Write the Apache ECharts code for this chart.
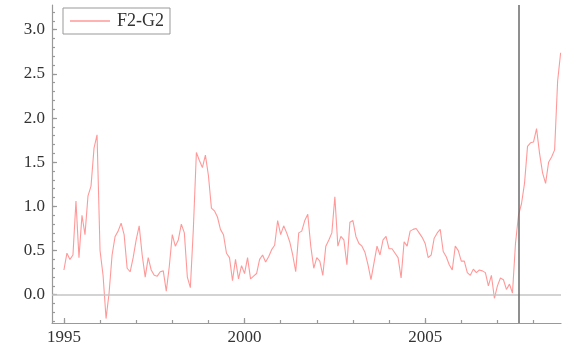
<!DOCTYPE html>
<html><head><meta charset="utf-8">
<script src="https://cdn.jsdelivr.net/npm/echarts@6/dist/echarts.min.js"></script>
<style>html,body{margin:0;padding:0;background:#fff}#c{width:573px;height:354px}</style>
</head><body><div id="c"></div>
<script>
// Monthly series starting January 1995
const startYear = 1995;
const v1995 = [0.28, 0.47, 0.40, 0.45, 1.06, 0.42, 0.90, 0.68, 1.12, 1.23, 1.66, 1.81];
const v1996 = [0.50, 0.22, -0.27, 0.02, 0.45, 0.66, 0.72, 0.81, 0.68, 0.30, 0.26, 0.42];
const v1997 = [0.62, 0.78, 0.45, 0.20, 0.42, 0.28, 0.22, 0.21, 0.26, 0.27, 0.04, 0.32];
const v1998 = [0.68, 0.55, 0.62, 0.80, 0.70, 0.20, 0.08, 0.75, 1.61, 1.52, 1.44, 1.58];
const v1999 = [1.35, 0.98, 0.95, 0.88, 0.74, 0.68, 0.47, 0.42, 0.16, 0.40, 0.18, 0.33];
const v2000 = [0.24, 0.42, 0.18, 0.21, 0.24, 0.40, 0.45, 0.37, 0.43, 0.51, 0.56, 0.84];
const v2001 = [0.68, 0.78, 0.70, 0.60, 0.45, 0.26, 0.70, 0.72, 0.84, 0.91, 0.55, 0.30];
const v2002 = [0.42, 0.38, 0.22, 0.55, 0.62, 0.70, 1.11, 0.55, 0.66, 0.62, 0.34, 0.82];
const v2003 = [0.84, 0.66, 0.58, 0.55, 0.48, 0.34, 0.17, 0.36, 0.55, 0.45, 0.62, 0.66];
const v2004 = [0.52, 0.52, 0.47, 0.42, 0.19, 0.60, 0.55, 0.72, 0.74, 0.75, 0.70, 0.65];
const v2005 = [0.58, 0.42, 0.45, 0.64, 0.70, 0.74, 0.49, 0.43, 0.34, 0.28, 0.55, 0.50];
const v2006 = [0.38, 0.38, 0.25, 0.22, 0.29, 0.25, 0.28, 0.27, 0.25, 0.10, 0.22, -0.04];
const v2007 = [0.10, 0.19, 0.17, 0.06, 0.12, 0.02, 0.58, 0.90, 1.03, 1.26, 1.68, 1.72];
const v2008 = [1.73, 1.88, 1.60, 1.38, 1.26, 1.50, 1.56, 1.64, 2.42, 2.74];

const seriesName = 'F2-G2';
const yearTicks = [1995, 1996, 1997, 1998, 1999, 2000, 2001, 2002, 2003, 2004, 2005, 2006, 2007, 2008];
const yearLabels = [1995, 2000, 2005];
const yMinorTicks = [-0.3, -0.2, -0.1, 0, 0.1, 0.2, 0.3, 0.4, 0.5, 0.6, 0.7, 0.8, 0.9, 1.0, 1.1, 1.2,
  1.3, 1.4, 1.5, 1.6, 1.7, 1.8, 1.9, 2.0, 2.1, 2.2, 2.3, 2.4, 2.5, 2.6, 2.7, 2.8, 2.9, 3.0, 3.1, 3.2];
const yLabels = [0, 0.5, 1.0, 1.5, 2.0, 2.5, 3.0];
const markerDate = 2007.58;

const values = [].concat(v1995, v1996, v1997, v1998, v1999, v2000, v2001,
  v2002, v2003, v2004, v2005, v2006, v2007, v2008);
const data = values.map((v, i) => [startYear + i / 12, v]);

const FONT = "'Liberation Serif', 'Times New Roman', serif";
const xMin = 1994.67, xMax = 2008.76, yMin = -0.32, yMax = 3.28;
const axisCol = '#999999';

function xAxisDef(ticks, len, labels) {
  return {
    type: 'value', min: xMin, max: xMax, position: 'bottom',
    axisLine: { show: !labels, onZero: false, lineStyle: { color: axisCol, width: 1.2 } },
    axisTick: { show: true, inside: true, length: len, customValues: ticks, lineStyle: { color: axisCol, width: 1.2 } },
    axisLabel: {
      show: labels, margin: 6, color: '#333', fontFamily: FONT, fontSize: 17,
      customValues: yearLabels, formatter: v => String(Math.round(v))
    },
    splitLine: { show: false }
  };
}
function yAxisDef(ticks, len, labels) {
  return {
    type: 'value', min: yMin, max: yMax, position: 'left',
    axisLine: { show: !labels, onZero: false, lineStyle: { color: axisCol, width: 1.2 } },
    axisTick: { show: true, inside: true, length: len, customValues: ticks, lineStyle: { color: axisCol, width: 1.2 } },
    axisLabel: {
      show: labels, margin: 7, color: '#333', fontFamily: FONT, fontSize: 17,
      customValues: yLabels, formatter: v => (Math.round(v * 10) / 10).toFixed(1)
    },
    splitLine: { show: false }
  };
}

const chart = echarts.init(document.getElementById('c'), null, { renderer: 'canvas' });
chart.setOption({
  animation: false,
  backgroundColor: '#fff',
  grid: { left: 52, right: 12, top: 5, bottom: 31 },
  legend: {
    left: 63, top: 8, orient: 'horizontal',
    backgroundColor: '#fff', borderColor: '#999', borderWidth: 1,
    padding: [4, 6, 4, 7], itemWidth: 40, itemHeight: 1.5, icon: 'rect',
    textStyle: { fontFamily: FONT, fontSize: 18, color: '#333', padding: [0, 0, 0, 2] },
    data: [seriesName]
  },
  xAxis: [xAxisDef(yearTicks, 3, false), xAxisDef(yearLabels, 5, true)],
  yAxis: [yAxisDef(yMinorTicks, 3, false), yAxisDef(yLabels, 5, true)],
  series: [{
    name: seriesName, type: 'line', xAxisIndex: 0, yAxisIndex: 0,
    data: data, showSymbol: false, symbol: 'none',
    lineStyle: { color: '#ff9999', width: 1.1 },
    itemStyle: { color: '#ff9999' },
    markLine: {
      silent: true, symbol: 'none', label: { show: false },
      data: [
        { yAxis: 0, lineStyle: { color: '#c4c4c4', width: 1.5, type: 'solid' } },
        { xAxis: markerDate, lineStyle: { color: '#6a6a6a', width: 1.5, type: 'solid' } }
      ]
    }
  }]
});
</script></body></html>
